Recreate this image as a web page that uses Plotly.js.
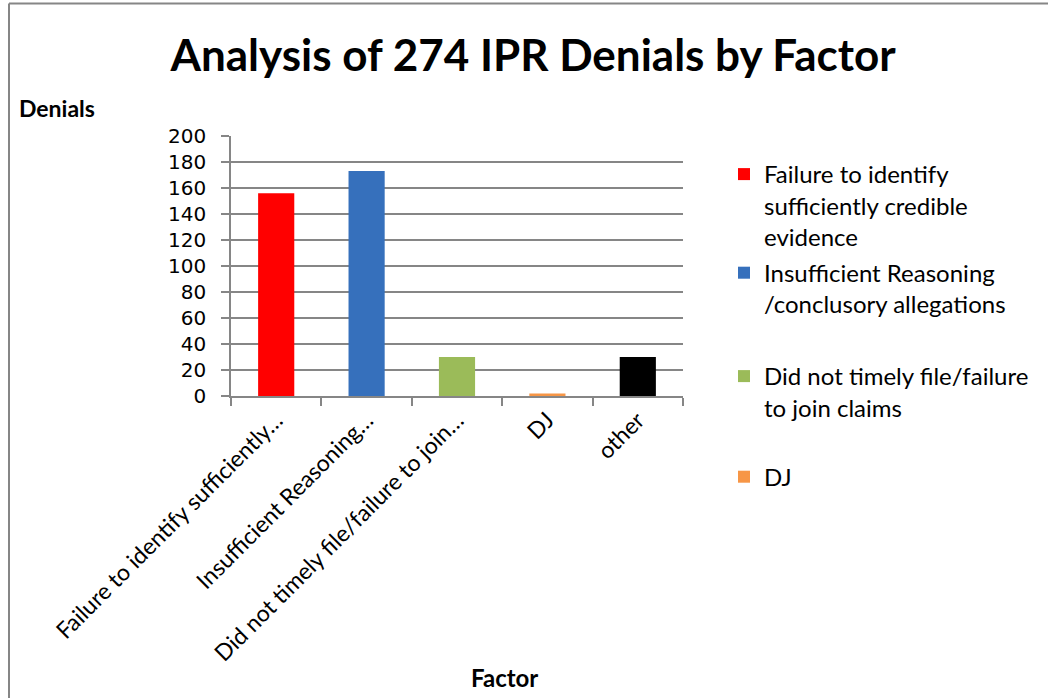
<!DOCTYPE html>
<html>
<head>
<meta charset="utf-8">
<script src="https://cdn.plot.ly/plotly-3.0.1.min.js"></script>
<style>html,body{margin:0;padding:0;background:#fff;}#chart{width:1048px;height:698px;}</style>
</head>
<body>
<div id="chart"></div>
<script>
// Data
var categories = [
  "Failure to identify sufficiently credible evidence",
  "Insufficient Reasoning /conclusory allegations",
  "Did not timely file/failure to join claims",
  "DJ",
  "other"
];
var tickLabels = [
  "Failure to identify sufficiently…",
  "Insufficient Reasoning…",
  "Did not timely file/failure to join…",
  "DJ",
  "other"
];
var legendNames = [
  "Failure to identify<br>sufficiently credible<br>evidence",
  "Insufficient Reasoning<br>/conclusory allegations",
  "Did not timely file/failure<br>to join claims<br>\u00a0",
  "DJ",
  "other"
];
var denials = [156, 173, 30, 2, 30];
var barColors = ["#FF0000", "#3670BC", "#9BBB59", "#F79646", "#000000"];
var inLegend = [true, true, true, true, false];
var legendRef = ["legend", "legend", "legend2", "legend2", "legend2"];

var FONT = "Lato, 'Open Sans', sans-serif";
var L = 231, R = 683, T = 136, B = 396, W = 1048, H = 698;
function px2x(p){ return (p - L) / (R - L); }
function px2y(p){ return (B - p) / (B - T); }

var traces = categories.map(function(c, i){
  return {
    type: "bar",
    x: [c],
    y: [denials[i]],
    name: legendNames[i],
    legend: legendRef[i],
    legendgroup: "g" + i,
    showlegend: inLegend[i],
    width: 0.4,
    marker: {color: barColors[i], line: {width: 0}},
    hoverinfo: "x+y"
  };
});

var legendCommon = {
  xanchor: "left",
  yanchor: "top",
  traceorder: "grouped",
  valign: "top",
  font: {family: FONT, size: 24, color: "#000000"},
  bgcolor: "rgba(0,0,0,0)",
  borderwidth: 0
};

var layout = {
  width: W, height: H,
  margin: {l: L, r: W - R, t: T, b: H - B, pad: 0},
  paper_bgcolor: "#ffffff",
  plot_bgcolor: "#ffffff",
  barmode: "overlay",
  font: {family: FONT, color: "#000000", size: 20},
  title: {
    text: "<b>Analysis of 274 IPR Denials by Factor</b>",
    font: {family: FONT, size: 44, color: "#000000"},
    x: 533 / W, xanchor: "center",
    y: 1 - 56 / H, yanchor: "middle"
  },
  xaxis: {
    type: "category",
    categoryorder: "array",
    categoryarray: categories,
    tickvals: categories,
    ticktext: tickLabels,
    range: [-0.5, 4.5],
    tickangle: -45,
    tickfont: {family: FONT, size: 23, color: "#000000"},
    showgrid: false,
    showline: true, linecolor: "#868686", linewidth: 1.5,
    ticks: "outside", tickson: "boundaries", ticklen: 8,
    tickcolor: "#868686", tickwidth: 1.5,
    zeroline: false,
    fixedrange: true
  },
  yaxis: {
    range: [0, 200],
    dtick: 20, tick0: 0,
    tickfont: {family: "'DejaVu Sans', sans-serif", size: 20, color: "#000000"},
    showgrid: true, gridcolor: "#868686", gridwidth: 1.5,
    showline: true, linecolor: "#868686", linewidth: 1.5,
    ticks: "outside", ticklen: 8, tickcolor: "#868686", tickwidth: 1.5,
    ticklabelstandoff: 11,
    zeroline: false,
    fixedrange: true
  },
  legend: Object.assign({}, legendCommon, {
    x: px2x(724), y: px2y(152), tracegroupgap: 2
  }),
  legend2: Object.assign({}, legendCommon, {
    x: px2x(724), y: px2y(354), tracegroupgap: 4
  }),
  annotations: [
    {text: "<b>Denials</b>", xref: "paper", yref: "paper",
     x: px2x(17), y: px2y(108), xanchor: "left", yanchor: "middle",
     showarrow: false, font: {family: FONT, size: 23, color: "#000000"}},
    {text: "<b>Factor</b>", xref: "paper", yref: "paper",
     x: px2x(504), y: px2y(678), xanchor: "center", yanchor: "middle",
     showarrow: false, font: {family: FONT, size: 24, color: "#000000"}}
  ],
  shapes: [
    {type: "line", xref: "paper", yref: "paper",
     x0: px2x(9), x1: px2x(1060), y0: px2y(3.5), y1: px2y(3.5),
     line: {color: "#868686", width: 2}},
    {type: "line", xref: "paper", yref: "paper",
     x0: px2x(9), x1: px2x(9), y0: px2y(3.5), y1: px2y(710),
     line: {color: "#868686", width: 2}}
  ],
  showlegend: true
};

Plotly.newPlot("chart", traces, layout, {displayModeBar: false, staticPlot: false});
</script>
</body>
</html>
